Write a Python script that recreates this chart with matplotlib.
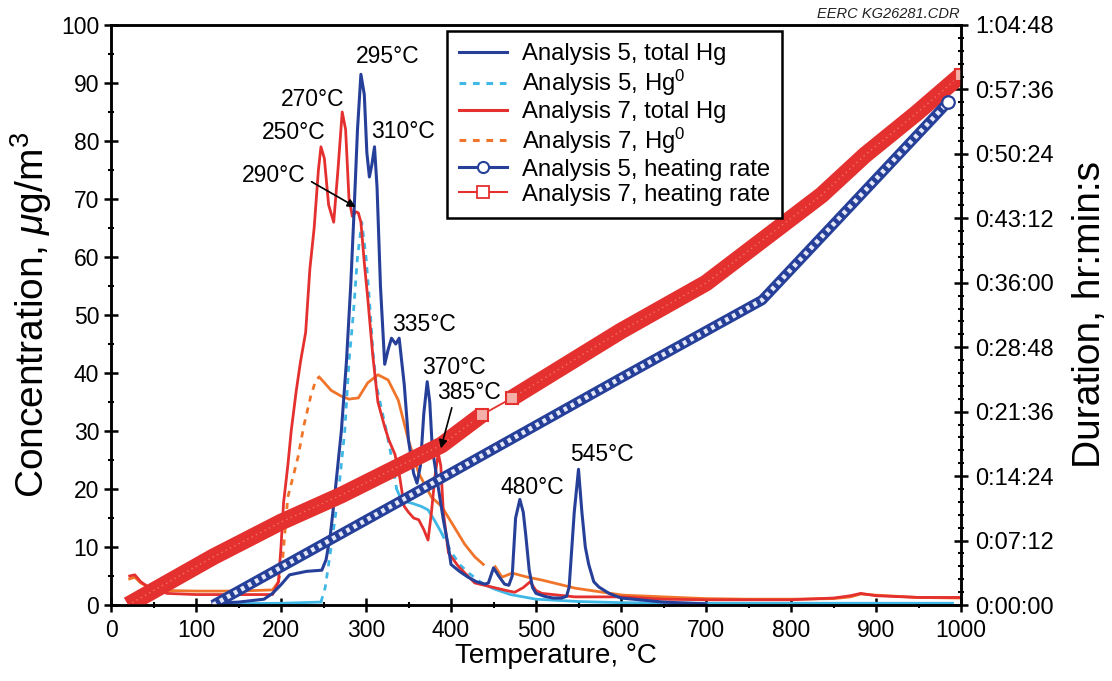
import numpy as np
import matplotlib
matplotlib.use("Agg")
import matplotlib.pyplot as plt
from matplotlib.lines import Line2D
from matplotlib.ticker import MultipleLocator, FixedLocator

plt.rcParams['font.family'] = ['Liberation Sans', 'DejaVu Sans']
plt.rcParams['mathtext.fontset'] = 'custom'
plt.rcParams['mathtext.rm'] = 'Liberation Sans'
plt.rcParams['mathtext.it'] = 'Liberation Sans:italic'

# ---------------- data ----------------
# Analysis 5, total Hg
t5 = [120, 150, 180, 190, 200, 210, 230, 248, 253, 258, 263, 271, 277, 282, 286, 290, 294, 298, 301, 304,
      307, 310, 313, 317, 322, 326, 330, 335, 339, 345, 350, 356, 360, 364, 368, 372, 375, 378, 385, 391,
      397, 400, 410, 420, 430, 440, 444, 450, 457, 463, 468, 472, 476, 481, 485, 488, 492, 496, 500, 510,
      520, 530, 536, 539, 545, 550, 554, 558, 562, 568, 574, 586, 600, 650, 700]
c5 = [0.3, 0.5, 1.0, 2.0, 3.5, 5.2, 5.8, 6.0, 7.8, 12, 18.6, 30, 42, 55, 68, 82, 91.5, 88, 78, 73.8,
      76, 79, 72, 55, 41.5, 44, 46, 45, 46, 38, 28.4, 22.7, 21, 24, 33, 38.5, 35, 27, 20.3, 14.7,
      10, 7, 5.8, 4.8, 4.0, 3.6, 3.8, 6.4, 4.8, 3.6, 3.4, 5, 15, 18.2, 16, 12, 6, 3, 2, 1.5,
      1.2, 1.2, 1.5, 3.1, 16, 23.4, 16, 10, 7, 4, 3.1, 2, 1.2, 0.5, 0.2]

# Analysis 5, Hg0
t5e = [130, 200, 247, 252, 259, 267, 275, 280, 285, 290, 295, 300, 304, 308, 312, 318, 324, 330, 336, 342,
       355, 365, 373, 381, 389, 395, 401, 410, 421, 436, 450, 470, 500, 550, 600, 700, 800, 900, 990]
c5e = [0.2, 0.3, 0.5, 3, 10, 18.6, 30, 42, 50, 60, 66, 60, 52.6, 44, 38, 34, 30, 25.5, 20, 18,
       17.5, 17, 16.4, 14.5, 12.4, 10.5, 9, 7, 5.5, 3.8, 2.8, 1.8, 1.0, 0.6, 0.4, 0.3, 0.3, 0.3, 0.3]

# Analysis 7, total Hg
t7 = [22, 28, 35, 45, 66, 100, 150, 190, 197, 200, 203, 208, 212, 218, 223, 229, 234, 239, 244, 247,
      251, 256, 262, 267, 272, 276, 280, 284, 288, 291, 294, 298, 302, 308, 314, 322, 327, 334, 339, 345,
      350, 356, 362, 368, 373, 377, 381, 385, 388, 391, 397, 409, 428, 448, 465, 475, 485, 493, 500, 507,
      546, 600, 650, 700, 750, 800, 850, 870, 882, 900, 950, 1000]
c7 = [5.0, 5.2, 4.0, 3.0, 2.0, 1.8, 1.8, 1.8, 4, 10, 17.6, 24, 30, 37, 42, 47, 58, 65, 75, 79,
      77, 69, 66, 75, 85, 82, 70, 67, 67.8, 67.6, 66, 59, 53, 43, 35, 30.7, 28.4, 26, 22.7, 17,
      16, 15, 14.7, 13, 11.2, 16, 22, 26.2, 24, 16, 9, 6.6, 3.8, 3.1, 2.5, 2.2, 3, 4, 2.5, 2,
      1.4, 1.4, 1.0, 0.9, 0.9, 0.9, 1.2, 1.6, 2.0, 1.6, 1.3, 1.3]

# Analysis 7, Hg0 (nan = gap in record)
t7e = [22, 28, 35, 45, 66, 100, 150, 190, 197, 202, 208, 214, 220, 227, 235, 241, 245, 250, 259, 271,
       280, 291, 302, 314, 326, 338, 350, 362, 377, 389, 404, 416, 428, 438, 445, 452, 460, 472, 490, 507,
       546, 602, 650, 700, 750, 800, 850, 870, 882, 900, 950, 1000]
c7e = [4.5, 4.8, 3.8, 3.0, 2.5, 2.4, 2.4, 2.6, 4, 8, 18.6, 22, 25.5, 31, 36, 38.8, 39.3, 38.5, 37, 36,
       35.5, 35.7, 38.3, 39.7, 38.8, 35.3, 28.4, 22.7, 18.6, 17, 13.4, 10.5, 8.3, 7.0, np.nan, 6.6, 4.8, 5.5, 4.8, 4.3,
       2.9, 1.7, 1.4, 1.1, 1.0, 1.0, 1.1, 1.4, 1.9, 1.7, 1.3, 1.2]

# Heating rate (elapsed time, seconds)
t5h = [120, 400, 600, 766, 870, 985]
s5h = [0, 885, 1522, 2044, 2674, 3372]
t7h = [20, 120, 200, 271, 389, 436, 472, 600, 700, 836, 887, 948, 1000]
s7h = [0, 322, 556, 737, 1073, 1274, 1388, 1837, 2158, 2748, 3016, 3298, 3553]

dur_ticks = [0, 432, 864, 1296, 1728, 2160, 2592, 3024, 3456, 3888]
dur_labels = ['0:00:00', '0:07:12', '0:14:24', '0:21:36', '0:28:48', '0:36:00',
              '0:43:12', '0:50:24', '0:57:36', '1:04:48']

# peak labels: (text, x, y)
peak_labels = [('295°C', 325, 94.5), ('270°C', 237, 87.2), ('250°C', 215, 81.4), ('310°C', 343, 81.7),
               ('335°C', 368, 48.3), ('370°C', 403, 41.0), ('480°C', 496, 20.3), ('545°C', 577, 25.9)]

BLUE = '#26409a'
CYAN = '#3fb8e6'
RED = '#e4302e'
ORANGE = '#f0752a'

fig = plt.figure(figsize=(11.12, 6.81), dpi=100)
ax = fig.add_axes([111/1112, 1-605/681, (961-111)/1112, 580/681])
ax2 = ax.twinx()

def seg_plot(axis, x, y, color, lw, styles):
    x = np.asarray(x, float); y = np.asarray(y, float)
    for lo, hi, dashed in styles:
        m = (x >= lo) & (x <= hi)
        if dashed:
            axis.plot(x[m], y[m], color=color, lw=lw, dashes=(2.2, 2.2))
        else:
            axis.plot(x[m], y[m], color=color, lw=lw)

seg_plot(ax, t5e, c5e, CYAN, 2.0, [(0, 250, False), (247, 340, True), (336, 390, False), (389, 440, True), (436, 1000, False)])
seg_plot(ax, t7e, c7e, ORANGE, 2.0, [(0, 198, False), (197, 246, True), (245, 1000, False)])
ax.plot(t7, c7, color=RED, lw=2.0)
ax.plot(t5, c5, color=BLUE, lw=2.2)

ax.set_xlim(0, 1000)
ax.set_ylim(0, 100)
ax.xaxis.set_major_locator(MultipleLocator(100))
ax.xaxis.set_minor_locator(MultipleLocator(50))
ax.yaxis.set_major_locator(MultipleLocator(10))
ax.yaxis.set_minor_locator(MultipleLocator(5))

# heating rate bands
t7h_a = np.asarray(t7h, float); s7h_a = np.asarray(s7h, float)
m1 = t7h_a <= 436
m2 = t7h_a >= 472
ax2.plot(t7h, s7h, color=RED, lw=1.3)
ax2.plot(t7h_a[m1], s7h_a[m1], color=RED, lw=12, solid_capstyle='butt')
ax2.plot(t7h_a[m2], s7h_a[m2], color=RED, lw=12, solid_capstyle='butt')
for mm in (m1, m2):
    ax2.plot(t7h_a[mm], s7h_a[mm], color='#f6aaa4', lw=1.0, dashes=(1, 2.5), alpha=0.55)
ax2.plot([436, 472, 1000], [1274, 1388, 3553], ls='none', marker='s', ms=8, mfc='#f4b0a8', mec=RED, mew=1.5)

ax2.plot(t5h, s5h, color=BLUE, lw=7.5, solid_capstyle='butt')
ax2.plot(t5h, s5h, color='#e3e7f7', lw=3.4, dashes=(0.8, 0.9))
ax2.plot([t5h[-1]], [s5h[-1]], ls='none', marker='o', ms=9, mfc='white', mec=BLUE, mew=1.6)

ax2.set_ylim(0, 3888)
ax2.yaxis.set_major_locator(FixedLocator(dur_ticks))
ax2.set_yticklabels(dur_labels)
ax2.yaxis.set_minor_locator(MultipleLocator(86.4))

for a in (ax, ax2):
    for sp in a.spines.values():
        sp.set_linewidth(1.8)
    a.tick_params(which='major', direction='inout', length=10, width=1.8, labelsize=16.5)
    a.tick_params(which='minor', direction='inout', length=5, width=1.5)
ax.tick_params(axis='x', pad=5)
ax2.tick_params(axis='y', labelsize=17, pad=5)

ax.set_xlabel('Temperature, °C', fontsize=20, labelpad=1)
ax.xaxis.label.set_x(0.5235)
ax.set_ylabel('Concentration, $\\mu$g/m$^3$', fontsize=28, labelpad=5)
ax2.set_ylabel('Duration, hr:min:s', fontsize=28, labelpad=13)

# annotations
fs = 16.5
for txt, x, y in peak_labels:
    ax.text(x, y, txt, fontsize=fs, ha='center', va='center')
ax.annotate('290°C', xy=(288, 68.6), xytext=(191, 74.0), fontsize=fs, ha='center', va='center',
            arrowprops=dict(arrowstyle='-|>', color='black', lw=1.2, mutation_scale=12,
                            relpos=(1.0, 0.4), shrinkA=3, shrinkB=0))
ax2.annotate('385°C', xy=(388, 27.0), xycoords=ax.transData, textcoords=ax.transData,
             xytext=(421, 36.7), fontsize=fs, ha='center', va='center',
             arrowprops=dict(arrowstyle='-|>', color='black', lw=1.2, mutation_scale=12,
                             relpos=(0.25, 0.0), shrinkA=1, shrinkB=0))

fig.text(960/1112, 1-14/681, 'EERC KG26281.CDR', fontsize=10.5, style='italic', ha='right', va='center', color='#222222')

handles = [
    Line2D([], [], color=BLUE, lw=2.2),
    Line2D([], [], color=CYAN, lw=2.2, dashes=(2.2, 2.2)),
    Line2D([], [], color=RED, lw=2.2),
    Line2D([], [], color=ORANGE, lw=2.2, dashes=(2.2, 2.2)),
    Line2D([], [], color=BLUE, lw=2.2, marker='o', ms=8, mfc='white', mec=BLUE, mew=1.5),
    Line2D([], [], color=RED, lw=1.5, marker='s', ms=8, mfc='white', mec=RED, mew=1.3),
]
labels = ['Analysis 5, total Hg', 'Analysis 5, Hg$^0$', 'Analysis 7, total Hg', 'Analysis 7, Hg$^0$',
          'Analysis 5, heating rate', 'Analysis 7, heating rate']
leg = ax2.legend(handles, labels, loc='upper left', bbox_to_anchor=((447-111)/850, (605-31)/580),
                 fontsize=17.2, frameon=True, fancybox=False, edgecolor='black', framealpha=1,
                 handlelength=2.0, handletextpad=0.65, labelspacing=0.12, borderpad=0.5,
                 borderaxespad=0)
leg.get_frame().set_linewidth(1.8)

fig.savefig('out.png', dpi=100)
